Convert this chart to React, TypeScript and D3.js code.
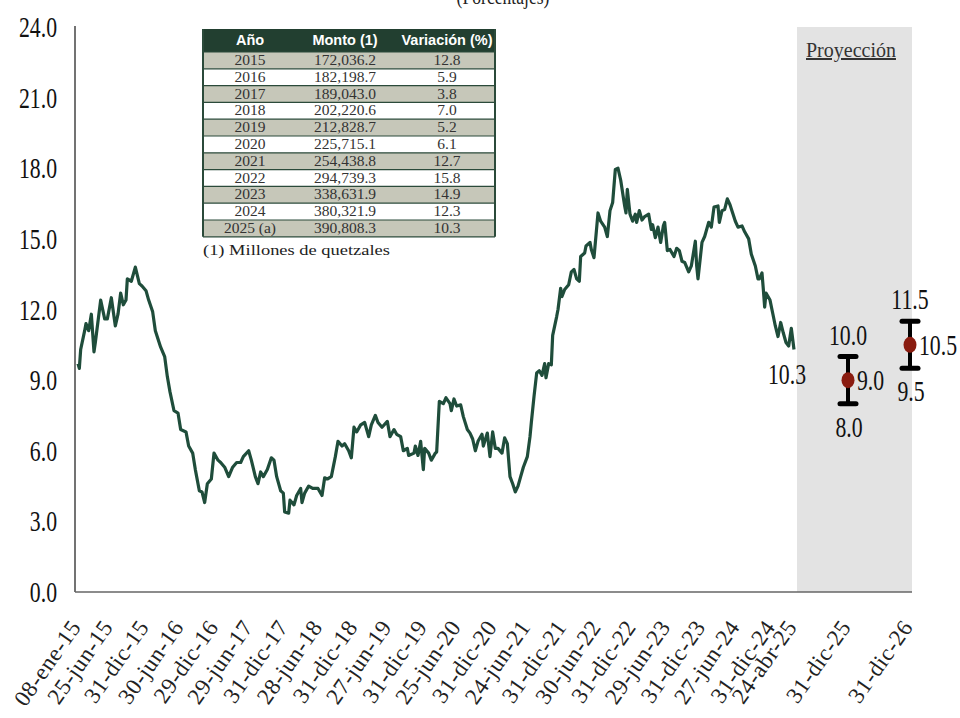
import React from "react";
import * as d3 from "d3";

// ---- DATA ----
const seriesStart = "2015-01-08"; // weekly series start (week 0)
// [week index, interannual variation %]
const rateSeries: [number, number][] = [
  [0,9.7],[1,9.5],[2,10.3],[5,11.1],[6,11.4],[8,11.1],[10,11.8],[12,10.2],[13,10.6],[17,12.4],[20,11.6],[22,11.6],[25,12.5],[28,11.3],[30,11.8],[32,12.7],[34,12.2],[36,12.4],[37,13.3],[40,13.2],[43,13.8],[46,13.1],[48,13.0],[51,12.8],[53,12.4],[56,11.9],[58,11.1],[62,10.4],[65,10.0],[67,9.15],[69,8.5],[72,7.7],[75,7.6],[77,6.9],[81,6.8],[83,6.2],[86,5.9],[88,5.2],[91,4.3],[93,4.25],[95,3.8],[97,4.6],[100,4.8],[102,5.9],[105,5.6],[107,5.5],[110,5.3],[113,4.9],[116,5.3],[119,5.5],[122,5.5],[124,5.75],[128,6.0],[130,5.6],[133,4.9],[135,4.6],[137,5.1],[139,4.9],[142,5.2],[145,5.7],[147,5.6],[149,4.9],[152,4.3],[154,4.2],[155,3.4],[158,3.35],[159,3.9],[162,3.7],[164,4.1],[167,4.4],[168,3.8],[170,4.2],[173,4.5],[176,4.4],[180,4.4],[183,4.1],[185,4.85],[187,4.8],[190,4.9],[193,5.75],[195,6.4],[198,6.2],[200,6.3],[203,6.0],[205,5.7],[207,7.0],[209,6.8],[212,7.1],[215,7.2],[218,6.6],[220,7.1],[223,7.5],[225,7.2],[228,7.0],[232,7.25],[234,6.6],[237,6.9],[239,6.7],[242,6.6],[244,6.0],[247,6.1],[248,5.8],[252,5.9],[253,6.2],[255,5.8],[257,6.4],[259,5.2],[260,6.1],[263,5.9],[265,5.6],[268,5.9],[269,5.95],[271,8.1],[274,8.0],[276,8.25],[279,8.0],[280,7.7],[282,8.2],[284,7.9],[287,7.95],[289,7.45],[292,6.9],[294,6.75],[296,6.5],[298,6.0],[300,6.4],[303,6.7],[304,6.2],[307,6.75],[309,5.75],[311,6.8],[313,6.1],[315,6.1],[318,5.9],[320,6.55],[322,6.3],[324,4.9],[326,4.6],[328,4.25],[330,4.5],[332,4.9],[334,5.3],[337,5.75],[339,6.6],[340,7.2],[342,8.3],[344,9.3],[346,9.4],[348,9.2],[350,9.7],[351,9.1],[353,9.7],[355,9.65],[356,10.9],[359,11.7],[360,12.0],[362,12.9],[363,12.55],[365,12.85],[368,13.05],[370,13.6],[372,13.7],[374,13.3],[376,13.2],[377,14.25],[380,14.4],[381,14.7],[384,14.85],[385,14.55],[387,14.2],[390,16.1],[392,15.75],[395,15.5],[397,15.1],[399,16.2],[401,16.55],[403,17.95],[405,18.0],[407,17.5],[410,16.4],[411,16.1],[412,17.1],[414,16.05],[416,15.75],[418,16.05],[419,15.7],[421,16.2],[423,15.8],[425,15.95],[428,16.05],[430,15.4],[431,15.6],[433,15.05],[435,15.5],[437,14.85],[439,15.55],[440,15.7],[442,14.5],[444,14.55],[447,14.25],[449,14.6],[451,14.5],[453,14.05],[455,14.0],[458,13.6],[460,13.85],[463,14.9],[464,13.85],[465,13.3],[468,14.85],[470,15.1],[473,15.7],[475,15.5],[477,16.35],[480,16.4],[481,15.7],[483,16.2],[485,16.25],[487,16.7],[489,16.45],[491,16.1],[493,15.75],[495,15.5],[498,15.55],[500,15.3],[503,15.0],[505,14.35],[508,13.85],[510,13.3],[511,13.3],[513,13.55],[514,12.85],[515,12.1],[516,12.7],[519,12.4],[521,11.85],[523,11.3],[525,10.85],[527,11.45],[529,11.0],[531,10.6],[533,10.45],[535,11.2],[537,10.3]
];
const lastLabel = "10.3";

const projDates = ["2025-12-31", "2026-12-31"];
const projMid = [9.0, 10.5];
const projLow = [8.0, 9.5];
const projHigh = [10.0, 11.5];

const yTicks = [0, 3, 6, 9, 12, 15, 18, 21, 24];

const xTickDates = [
  "2015-01-08","2015-06-25","2015-12-31","2016-06-30","2016-12-29","2017-06-29","2017-12-31",
  "2018-06-28","2018-12-31","2019-06-27","2019-12-31","2020-06-25","2020-12-31","2021-06-24",
  "2021-12-31","2022-06-30","2022-12-31","2023-06-29","2023-12-31","2024-06-27","2024-12-31",
  "2025-04-24","2025-12-31","2026-12-31"
];
const xTickLabels = [
  "08-ene-15","25-jun-15","31-dic-15","30-jun-16","29-dic-16","29-jun-17","31-dic-17",
  "28-jun-18","31-dic-18","27-jun-19","31-dic-19","25-jun-20","31-dic-20","24-jun-21",
  "31-dic-21","30-jun-22","31-dic-22","29-jun-23","31-dic-23","27-jun-24","31-dic-24",
  "24-abr-25","31-dic-25","31-dic-26"
];

const tableHeaders = ["Año", "Monto (1)", "Variación (%)"];
const tableYears = ["2015","2016","2017","2018","2019","2020","2021","2022","2023","2024","2025 (a)"];
const tableMontos = ["172,036.2","182,198.7","189,043.0","202,220.6","212,828.7","225,715.1","254,438.8","294,739.3","338,631.9","380,321.9","390,808.3"];
const tableVar = ["12.8","5.9","3.8","7.0","5.2","6.1","12.7","15.8","14.9","12.3","10.3"];
const tableNote = "(1) Millones de quetzales";

// ---- HELPERS ----
const parse = d3.timeParse("%Y-%m-%d");
const startDate = parse(seriesStart) as Date;
const weekDate = (w: number) => d3.timeDay.offset(startDate, w * 7);

const W = 960, H = 718;
const lastDate = weekDate(rateSeries[rateSeries.length - 1][0]);

const x = d3.scaleTime()
  .domain([startDate, lastDate, parse(projDates[0]) as Date, parse(projDates[1]) as Date])
  .range([78, 794, 848, 910]);
const y = d3.scaleLinear().domain([0, 24]).range([592, 27]);

const GREEN = "#1f4d3b";
const SERIF = "'Liberation Serif', 'Times New Roman', serif";

function CondText(props: { x: number; y: number; anchor?: string; size?: number; children: any }) {
  const { x: tx, y: ty, anchor = "middle", size = 29, children } = props;
  return (
    <text transform={`translate(${tx},${ty}) scale(0.75,1)`} textAnchor={anchor}
      fontFamily={SERIF} fontSize={size} fill="#111">{children}</text>
  );
}

export default function App() {
  const line = d3.line<[number, number]>()
    .x((d) => x(weekDate(d[0])))
    .y((d) => y(d[1]))
    .curve(d3.curveLinear);

  const last = rateSeries[rateSeries.length - 1];
  const shadeX0 = x(lastDate) + 3;
  const shadeX1 = x(parse(projDates[1]) as Date) + 2;

  // table geometry
  const tX = 203, tY = 29, tW = 292, headH = 23, rowH = 16.8;
  const colX = [250, 345, 447];
  const tBottom = tY + headH + tableYears.length * rowH;

  return (
    <svg width={W} height={H} style={{ position: "absolute", left: 0, top: 0, background: "#fff" }}>
      {/* title (cut off at the top, as in the source image) */}
      <text transform={`translate(503,4) scale(0.8,1)`} textAnchor="middle" fontFamily={SERIF} fontSize={22} fill="#222">(Porcentajes)</text>

      {/* projection shading */}
      <rect x={shadeX0} y={y(24)} width={shadeX1 - shadeX0} height={y(0) - y(24)} fill="#e3e3e3" />
      <text x={851} y={57} textAnchor="middle" fontFamily={SERIF} fontSize={20} fill="#333" textDecoration="underline">Proyección</text>

      {/* axes */}
      <line x1={75} x2={75} y1={y(24) - 1} y2={y(0)} stroke="#444" strokeWidth={1.5} />
      <line x1={75} x2={shadeX1} y1={y(0)} y2={y(0)} stroke="#666" strokeWidth={1.5} />

      {yTicks.map((v) => (
        <CondText key={v} x={57} y={y(v) + 10} anchor="end">{v.toFixed(1)}</CondText>
      ))}

      {xTickDates.map((d, i) => {
        const px = x(parse(d) as Date);
        return (
          <text key={d} transform={`translate(${px + 4},${627}) rotate(-55)`} textAnchor="end"
            fontFamily={SERIF} fontSize={23} letterSpacing={0.6} fill="#222">{xTickLabels[i]}</text>
        );
      })}

      {/* series */}
      <path d={line(rateSeries) || ""} fill="none" stroke={GREEN} strokeWidth={3.2} strokeLinejoin="round" />
      <CondText x={x(lastDate) - 7} y={y(last[1]) + 34}>{lastLabel}</CondText>

      {/* projections */}
      {projDates.map((d, i) => {
        const px = x(parse(d) as Date);
        return (
          <g key={d}>
            <line x1={px} x2={px} y1={y(projHigh[i])} y2={y(projLow[i])} stroke="#000" strokeWidth={4} />
            <line x1={px - 8} x2={px + 8} y1={y(projHigh[i])} y2={y(projHigh[i])} stroke="#000" strokeWidth={5} strokeLinecap="round" />
            <line x1={px - 8} x2={px + 8} y1={y(projLow[i])} y2={y(projLow[i])} stroke="#000" strokeWidth={5} strokeLinecap="round" />
            <ellipse cx={px} cy={y(projMid[i])} rx={6.5} ry={8} fill="#8a1c10" />
            <CondText x={px} y={y(projHigh[i]) - 12}>{projHigh[i].toFixed(1)}</CondText>
            <CondText x={px + 9} y={y(projMid[i]) + 10} anchor="start">{projMid[i].toFixed(1)}</CondText>
            <CondText x={px + 1} y={y(projLow[i]) + 33}>{projLow[i].toFixed(1)}</CondText>
          </g>
        );
      })}

      {/* table */}
      <g>
        <rect x={tX} y={tY} width={tW} height={headH} fill="#223f30" />
        {tableHeaders.map((h, i) => (
          <text key={h} x={colX[i]} y={tY + 16} textAnchor="middle" fontFamily="'Liberation Sans', Arial, sans-serif"
            fontWeight="bold" fontSize={14.5} fill="#fff">{h}</text>
        ))}
        {tableYears.map((yr, i) => {
          const ry = tY + headH + i * rowH;
          return (
            <g key={yr}>
              <rect x={tX} y={ry} width={tW} height={rowH} fill={i % 2 === 0 ? "#c6c7b9" : "#ffffff"} />
              <line x1={tX} x2={tX + tW} y1={ry} y2={ry} stroke="#2b4a3a" strokeWidth={1.2} />
              <text x={colX[0]} y={ry + 13} textAnchor="middle" fontFamily={SERIF} fontSize={15.5} fill="#333">{yr}</text>
              <text x={colX[1]} y={ry + 13} textAnchor="middle" fontFamily={SERIF} fontSize={15.5} fill="#333">{tableMontos[i]}</text>
              <text x={colX[2]} y={ry + 13} textAnchor="middle" fontFamily={SERIF} fontSize={15.5} fill="#333">{tableVar[i]}</text>
            </g>
          );
        })}
        <line x1={tX} x2={tX + tW} y1={tBottom} y2={tBottom} stroke="#2b4a3a" strokeWidth={1.2} />
        <line x1={tX} x2={tX} y1={tY} y2={tBottom} stroke="#2b4a3a" strokeWidth={2} />
        <line x1={tX + tW} x2={tX + tW} y1={tY} y2={tBottom} stroke="#2b4a3a" strokeWidth={2} />
        <text x={tX} y={tBottom + 18} fontFamily={SERIF} fontSize={15} fill="#222" textLength={187} lengthAdjust="spacingAndGlyphs">{tableNote}</text>
      </g>
    </svg>
  );
}
